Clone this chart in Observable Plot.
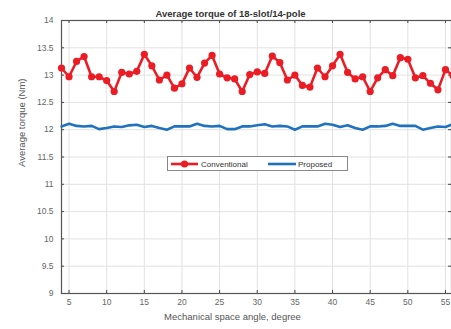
<!DOCTYPE html>
<html>
<head>
<meta charset="utf-8">
<script src="https://cdn.jsdelivr.net/npm/d3@7"></script>
<script src="https://cdn.jsdelivr.net/npm/@observablehq/plot@0.6"></script>
<style>
  html, body { margin: 0; padding: 0; background: #fff; }
  #wrap { position: relative; width: 451px; height: 329px; overflow: hidden; font-family: "Liberation Sans", Arial, sans-serif; }
  #legend { position: absolute; left: 167px; top: 156px; width: 181px; height: 15px; border: 1px solid #888; background: #fff; box-sizing: border-box; font-size: 8px; color: #333; }
  #legend .item { position: absolute; top: 0; height: 14px; display: flex; align-items: center; }
  #legend svg { display: block; }
</style>
</head>
<body>
<div id="wrap"></div>
<script>
const angles = d3.range(4, 57); // 4..56 degrees, 1° step
const conventional = [
  13.13, 12.97, 13.25, 13.34, 12.97, 12.97, 12.90, 12.70, 13.05, 13.02,
  13.07, 13.38, 13.17, 12.91, 13.00, 12.76, 12.84, 13.13, 12.96, 13.22,
  13.36, 13.02, 12.95, 12.93, 12.70, 13.01, 13.06, 13.03, 13.35, 13.23,
  12.91, 13.00, 12.81, 12.78, 13.13, 12.97, 13.17, 13.38, 13.05, 12.93,
  12.97, 12.70, 12.95, 13.10, 12.99, 13.32, 13.29, 12.95, 12.99, 12.85,
  12.73, 13.10, 12.99
];
const proposed = [
  12.06, 12.11, 12.07, 12.06, 12.07, 12.01, 12.03, 12.06, 12.05, 12.08,
  12.09, 12.05, 12.07, 12.03, 12.00, 12.06, 12.06, 12.06, 12.11, 12.07,
  12.06, 12.07, 12.01, 12.01, 12.06, 12.06, 12.08, 12.10, 12.06, 12.07,
  12.06, 12.00, 12.06, 12.06, 12.06, 12.11, 12.09, 12.05, 12.08, 12.03,
  12.00, 12.06, 12.06, 12.07, 12.11, 12.07, 12.07, 12.07, 12.00, 12.03,
  12.06, 12.05, 12.10
];
const xTicks = [5, 10, 15, 20, 25, 30, 35, 40, 45, 50, 55];
const yTicks = [9, 9.5, 10, 10.5, 11, 11.5, 12, 12.5, 13, 13.5, 14];
const seriesNames = ["Conventional", "Proposed"];
const colors = ["#ec1c24", "#1f72bd"];

const conv = angles.map((a, i) => ({angle: a, torque: conventional[i]}));
const prop = angles.map((a, i) => ({angle: a, torque: proposed[i]}));

const xMin = 4, xMax = 55.8, yMin = 9, yMax = 14;
const tickLenX = 3 / 7.53;   // 3px in x data units
const tickLenY = 3 / 54.6;   // 3px in y data units

const chart = Plot.plot({
  width: 451,
  height: 329,
  marginLeft: 61,
  marginRight: 0,
  marginTop: 20,
  marginBottom: 36,
  style: {fontFamily: "'Liberation Sans', Arial, sans-serif", fontSize: "8.5px", color: "#666", background: "transparent"},
  x: {domain: [xMin, xMax]},
  y: {domain: [yMin, yMax]},
  marks: [
    Plot.gridX(xTicks, {stroke: "#e2e2e2", strokeOpacity: 1}),
    Plot.gridY(yTicks, {stroke: "#e2e2e2", strokeOpacity: 1}),
    Plot.ruleX(xTicks, {x: d => d, y1: yMin, y2: yMin + tickLenY, stroke: "#444"}),
    Plot.ruleX(xTicks, {x: d => d, y1: yMax, y2: yMax - tickLenY, stroke: "#444"}),
    Plot.ruleY(yTicks, {y: d => d, x1: xMin, x2: xMin + tickLenX, stroke: "#444"}),
    Plot.ruleY(yTicks, {y: d => d, x1: xMax, x2: xMax - tickLenX, stroke: "#444"}),
    Plot.frame({stroke: "#555", strokeWidth: 1.2}),
    Plot.axisX(xTicks, {tickSize: 0, tickPadding: 5, label: null, fill: "#666"}),
    Plot.axisY(yTicks, {tickSize: 0, tickPadding: 8, label: null, fill: "#666", tickFormat: d => String(d)}),
    Plot.line(prop, {x: "angle", y: "torque", stroke: colors[1], strokeWidth: 2.6}),
    Plot.line(conv, {x: "angle", y: "torque", stroke: colors[0], strokeWidth: 2.6}),
    Plot.dot(conv, {x: "angle", y: "torque", fill: colors[0], r: 3.6, stroke: "none"}),
    Plot.text(["Average torque of 18-slot/14-pole"], {frameAnchor: "top", dx: -26, dy: -10, fontWeight: "bold", fontSize: 9.5, fill: "#333"}),
    Plot.text(["Mechanical space angle, degree"], {frameAnchor: "bottom", dx: -24, dy: 26, fontSize: 9.5, fill: "#555"}),
    Plot.text(["Average torque (Nm)"], {frameAnchor: "left", rotate: -90, dx: -40, dy: 10, fontSize: 9.5, fill: "#555"})
  ]
});

const wrap = document.getElementById("wrap");
wrap.appendChild(chart);

// legend
const legend = document.createElement("div");
legend.id = "legend";
legend.innerHTML = `
  <div class="item" style="left:3px">
    <svg width="27" height="8"><line x1="0" y1="4" x2="27" y2="4" stroke="${colors[0]}" stroke-width="2.6"/><circle cx="13.5" cy="4" r="3.6" fill="${colors[0]}"/></svg>
    <span style="margin-left:3px">${seriesNames[0]}</span>
  </div>
  <div class="item" style="left:100px">
    <svg width="28" height="8"><line x1="0" y1="4" x2="28" y2="4" stroke="${colors[1]}" stroke-width="2.6"/></svg>
    <span style="margin-left:2px">${seriesNames[1]}</span>
  </div>`;
wrap.appendChild(legend);
</script>
</body>
</html>
